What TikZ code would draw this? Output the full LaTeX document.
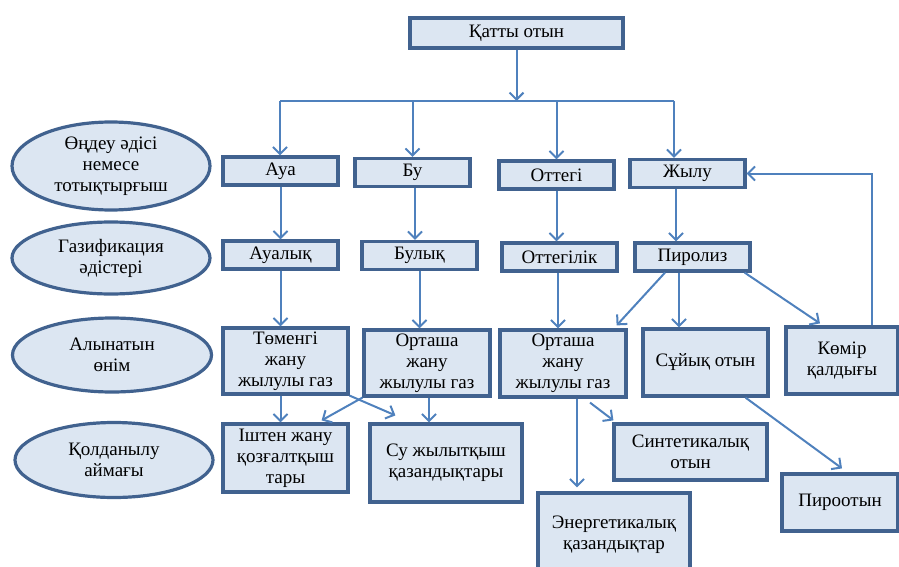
\documentclass[tikz,border=0pt]{standalone}
\usepackage{fontspec}
\newfontfamily\kzserif{Liberation Serif}
\usepackage{xcolor}
\usetikzlibrary{arrows.meta,shapes.geometric}
\definecolor{boxfill}{HTML}{DCE6F2}
\definecolor{boxline}{HTML}{41628F}
\definecolor{arrline}{HTML}{4F81BD}

\begin{document}
\begin{tikzpicture}[
        x=1pt, y=-1pt,
        font=\kzserif\fontsize{19}{21}\selectfont,
        box/.style={draw=boxline, fill=boxfill, line width=3.2pt, align=center, inner sep=1pt},
        oval/.style={ellipse, draw=boxline, fill=boxfill, line width=3.2pt, align=center, inner sep=0pt},
        conn/.style={draw=arrline, line width=2pt},
        arr/.style={conn, -{Straight Barb[length=7pt,width=14pt]}}
    ]
        \useasboundingbox (0,0) rectangle (899,567);
        \node[box, minimum width=213pt, minimum height=30pt] (kat) at (516.5,33) {Қатты отын};
        \node[box, minimum width=115pt, minimum height=28pt] (aua) at (280.5,171) {Ауа};
        \node[box, minimum width=115pt, minimum height=28pt] (bu) at (412.5,172.5) {Бу};
        \node[box, minimum width=115pt, minimum height=28pt] (ott) at (556.5,175) {Оттегі};
        \node[box, minimum width=115pt, minimum height=28pt] (zhylu) at (687.5,173.5) {Жылу};
        \node[box, minimum width=115pt, minimum height=28pt] (aual) at (280.5,255) {Ауалық};
        \node[box, minimum width=115pt, minimum height=28pt] (bul) at (419.5,255.5) {Булық};
        \node[box, minimum width=115pt, minimum height=28pt] (ottl) at (559.5,257) {Оттегілік};
        \node[box, minimum width=115pt, minimum height=28pt] (pyr) at (692.5,257) {Пиролиз};
        \node[box, minimum width=125pt, minimum height=66pt] (tomen) at (285.5,361) {Төменгі\\жану\\жылулы газ};
        \node[box, minimum width=126pt, minimum height=66pt] (ortL) at (427,363) {Орташа\\жану\\жылулы газ};
        \node[box, minimum width=126pt, minimum height=67pt] (ortR) at (563,363.5) {Орташа\\жану\\жылулы газ};
        \node[box, minimum width=125pt, minimum height=67pt] (suyk) at (705.5,362.5) {Сұйық отын};
        \node[box, minimum width=112pt, minimum height=67pt] (komir) at (842,360.5) {Көмір\\қалдығы};
        \node[box, minimum width=125pt, minimum height=68pt] (ishten) at (285.5,458) {Іштен жану\\қозғалтқыш\\тары};
        \node[box, minimum width=152pt, minimum height=78pt] (su) at (446,463) {Су жылытқыш\\қазандықтары};
        \node[box, minimum width=153pt, minimum height=56pt] (synth) at (690.5,452) {Синтетикалық\\отын};
        \node[box, minimum width=152pt, minimum height=84pt] (energ) at (614,535) {Энергетикалық\\қазандықтар};
        \node[box, minimum width=116pt, minimum height=57pt] (pyroot) at (840,502.5) {Пироотын};
        \node[oval, minimum width=198pt, minimum height=88pt] (ovA) at (111,166) {Өңдеу әдісі\\немесе\\тотықтырғыш};
        \node[oval, minimum width=198pt, minimum height=72pt] (ovB) at (111,258) {Газификация\\әдістері};
        \node[oval, minimum width=199pt, minimum height=74pt] (ovC) at (112,355) {Алынатын\\өнім};
        \node[oval, minimum width=198pt, minimum height=75pt] (ovD) at (114,460) {Қолданылу\\аймағы};
        \coordinate (busL) at (280,101);
        \coordinate (busR) at (674,101);
        \draw[conn] (busL) -- (busR);
        \draw[arr] (kat.south) -- (kat.south |- busL);
        \draw[arr] (busL) -- (busL |- aua.north);
        \draw[arr] (bu.north |- busL) -- (bu.north);
        \draw[arr] (ott.north |- busL) -- (ott.north);
        \draw[arr] (busR) -- (busR |- zhylu.north);
        \draw[arr] ([xshift=2.5]bu.south) -- ([xshift=2.5]bu.south |- bul.north);
        \draw[arr] (aua.south) -- (aua.south |- aual.north);
        \draw[arr] (ott.south) -- (ott.south |- ottl.north);
        \draw[arr] ([xshift=-11.5]zhylu.south) -- ([xshift=-11.5]zhylu.south |- pyr.north);
        \draw[arr] (aual.south) -- (aual.south |- tomen.north);
        \draw[arr] (bul.south) -- (bul.south |- ortL.north);
        \draw[arr] ([xshift=-1.5]ottl.south) -- ([xshift=-1.5]ottl.south |- ortR.north);
        \draw[arr] ([xshift=-27.5]pyr.south) -- ([shift={(-11,-3)}]ortR.north east);
        \draw[arr] ([xshift=-13.5]pyr.south) -- ([xshift=-13.5]pyr.south |- suyk.north);
        \draw[arr] ([xshift=-7]pyr.south east) -- ([shift={(-22,-2)}]komir.north);
        \draw[arr] ([xshift=30]komir.north) |- (zhylu.east);
        \draw[arr] ([xshift=-5]tomen.south) -- ([xshift=-5]tomen.south |- ishten.north);
        \draw[arr] (tomen.south east) -- ([shift={(27,-7)}]su.north west);
        \draw[arr] (ortL.south west) -- ([shift={(-28,-2)}]ishten.north east);
        \draw[arr] ([xshift=2]ortL.south) -- ([xshift=2]ortL.south |- su.north);
        \draw[arr] ([xshift=14]ortR.south) -- ([shift={(14,-4)}]ortR.south |- energ.north);
        \draw[arr] ([shift={(27,4)}]ortR.south) -- ([shift={(1,-2)}]synth.north west);
        \draw[arr] ([xshift=40]suyk.south) -- ([shift={(2,-4)}]pyroot.north);
    \end{tikzpicture}
\end{document}
